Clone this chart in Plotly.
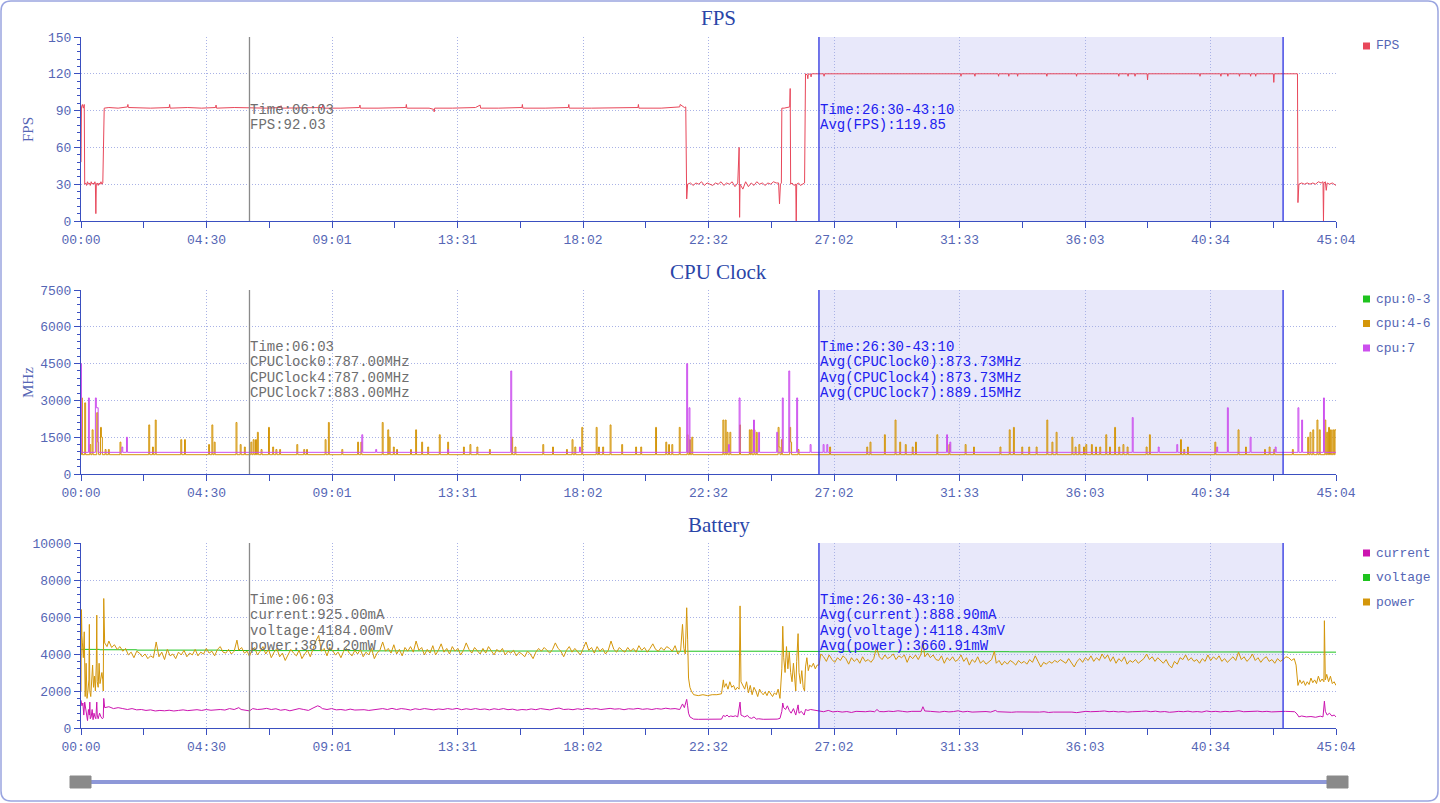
import plotly.graph_objects as go
from plotly.subplots import make_subplots

# ---- data (seconds from start, value) ----
tick_labels = ["00:00", "04:30", "09:01", "13:31", "18:02", "22:32",
               "27:02", "31:33", "36:03", "40:34", "45:04"]
total_secs = 2704

cursor_time = 363          # 06:03
sel_start, sel_end = 1590, 2590   # 26:30 - 43:10

fps_points = [
    (0, 48), (1, 93), (3, 95), (5, 92), (7, 95), (8, 30), (10, 31), (12, 29), (14, 32), (16, 30),
    (18, 31), (20, 29), (22, 32), (24, 30), (26, 31), (28, 30), (30, 32), (31, 30), (32, 6), (33, 30),
    (35, 31), (37, 29), (39, 31), (41, 30), (43, 32), (45, 30), (47, 31), (48, 55), (50, 92),
    (60, 92.5), (80, 92), (100, 93), (101, 95), (102, 92.5), (150, 92), (190, 92.5), (191, 95), (192, 92),
    (230, 92.5), (260, 92), (290, 92.5), (291, 94.5), (292, 92), (330, 92.5), (363, 92.03), (400, 92),
    (430, 92.5), (431, 94), (432, 92), (470, 92), (520, 92.5), (521, 95), (522, 92), (560, 92),
    (600, 92.5), (601, 94.5), (602, 92), (640, 92), (700, 92.5), (701, 95), (702, 92), (750, 92),
    (760, 91), (761, 89), (762, 92), (800, 92), (850, 92.5), (860, 94.5), (861, 92), (900, 92),
    (950, 92.5), (951, 95), (952, 92), (1000, 92), (1050, 92.5), (1051, 95), (1052, 92), (1100, 92),
    (1150, 92.5), (1200, 92.5), (1201, 95), (1202, 92), (1250, 92), (1290, 93), (1291, 95), (1300, 92.5),
    (1303, 93), (1305, 18), (1307, 30), (1313, 31), (1319, 29), (1325, 31), (1331, 30), (1337, 32),
    (1343, 29), (1349, 31), (1355, 30), (1361, 29), (1367, 31), (1373, 30), (1379, 32), (1385, 29),
    (1391, 31), (1397, 30), (1403, 32), (1409, 28), (1415, 31), (1418, 60), (1419, 3), (1420, 30),
    (1426, 26), (1432, 32), (1438, 28), (1444, 31), (1450, 29), (1456, 32), (1462, 30), (1468, 31),
    (1474, 29), (1480, 31), (1486, 30), (1492, 32), (1498, 31), (1503, 31), (1505, 14), (1507, 30),
    (1509, 31), (1510, 92), (1515, 92), (1520, 92.5), (1527, 93), (1528, 108), (1529, 30), (1532, 31),
    (1536, 29), (1540, 30), (1541, 0), (1542, 30), (1546, 31), (1550, 29), (1555, 30), (1559, 31),
    (1561, 120), (1565, 119), (1566, 116), (1567, 120), (1572, 119.5), (1573, 117.5), (1574, 120),
    (1600, 120), (1601, 118), (1602, 120), (1895, 120), (1896, 118), (1897, 120), (1925, 120), (1926, 118),
    (1927, 120), (1976, 120), (1977, 118), (1978, 120), (1998, 120), (1999, 118), (2000, 120), (2017, 120),
    (2018, 118), (2019, 120), (2080, 120), (2081, 118), (2082, 120), (2144, 120), (2145, 118), (2146, 120),
    (2235, 120), (2236, 118), (2237, 120), (2255, 120), (2256, 118), (2257, 120), (2270, 120), (2271, 118),
    (2272, 120), (2297, 120), (2298, 115), (2299, 120), (2410, 120), (2411, 118), (2412, 120), (2455, 120),
    (2456, 118), (2457, 120), (2470, 120), (2471, 118), (2472, 120), (2495, 120), (2496, 118), (2497, 120),
    (2519, 120), (2520, 118), (2521, 120), (2530, 120), (2531, 118), (2532, 120), (2569, 120), (2570, 113),
    (2571, 120), (2621, 120), (2622, 15), (2624, 30), (2630, 31), (2636, 30), (2642, 31), (2648, 30),
    (2654, 31), (2660, 30), (2666, 32), (2672, 31), (2676, 32), (2677, 0), (2678, 31), (2681, 32),
    (2683, 25), (2685, 31), (2690, 30), (2696, 31), (2700, 30), (2704, 29),
]

# cpu 4-6 clock (MHz), step series: (time, value); cpu 0-3 sits exactly under it
cpu46_points = [
    (0, 787), (1, 3100), (3, 787), (8, 2900), (10, 787), (19, 1200), (21, 787), (24, 1800), (26, 787),
    (34, 2500), (36, 1300), (38, 787), (42, 1900), (44, 1500), (46, 787), (52, 1000), (54, 787),
    (59, 1000), (61, 787), (84, 1300), (86, 787), (146, 2000), (148, 787), (154, 1100), (156, 787),
    (160, 2200), (162, 787), (215, 1400), (217, 787), (223, 1400), (225, 787), (275, 1200), (277, 787),
    (282, 2000), (284, 787), (287, 1300), (289, 787), (334, 2100), (336, 787), (343, 1200), (345, 787),
    (352, 1100), (354, 787), (366, 1300), (368, 787), (371, 1400), (373, 787), (376, 1400), (378, 787),
    (380, 1700), (382, 787), (388, 1000), (390, 787), (404, 1900), (406, 787), (413, 1100), (415, 787),
    (420, 1000), (422, 787), (428, 1000), (430, 787), (465, 1200), (467, 787), (480, 1000), (482, 787),
    (486, 1000), (488, 787), (526, 1400), (528, 787), (533, 2100), (535, 787), (562, 1000), (564, 787),
    (596, 1300), (598, 787), (603, 1300), (605, 787), (649, 2100), (651, 787), (661, 1800), (663, 787),
    (664, 1500), (666, 787), (673, 1100), (675, 787), (680, 1000), (682, 787), (710, 1000), (712, 787),
    (721, 1800), (723, 787), (734, 1300), (736, 787), (747, 1100), (749, 787), (772, 1600), (774, 787),
    (790, 1300), (792, 787), (824, 1100), (826, 787), (838, 1200), (840, 787), (853, 1100), (855, 787),
    (880, 1000), (882, 787), (928, 1500), (930, 787), (935, 1100), (937, 787), (995, 1200), (997, 787),
    (1016, 1100), (1018, 787), (1046, 1000), (1048, 787), (1058, 1400), (1060, 787), (1064, 1100),
    (1066, 787), (1079, 1900), (1081, 787), (1110, 1900), (1112, 787), (1115, 1100), (1117, 787),
    (1124, 1100), (1126, 787), (1140, 2000), (1142, 787), (1165, 1200), (1167, 787), (1195, 1100),
    (1197, 787), (1206, 1100), (1208, 787), (1238, 1900), (1240, 787), (1260, 1300), (1262, 787),
    (1266, 1200), (1268, 787), (1273, 1200), (1275, 787), (1289, 1900), (1291, 787), (1306, 1600),
    (1308, 787), (1311, 1400), (1313, 787), (1316, 1500), (1318, 787), (1383, 2200), (1385, 787),
    (1388, 2200), (1390, 787), (1392, 1700), (1394, 787), (1398, 1700), (1400, 787), (1419, 2000),
    (1421, 787), (1440, 1800), (1442, 787), (1444, 1800), (1446, 787), (1450, 1800), (1452, 787),
    (1455, 1700), (1457, 787), (1502, 1900), (1504, 1100), (1506, 787), (1509, 1400), (1511, 787),
    (1527, 1900), (1529, 1300), (1531, 787), (1545, 1000), (1547, 787), (1613, 1100), (1615, 787),
    (1693, 1100), (1695, 787), (1700, 1300), (1702, 787), (1731, 1600), (1733, 787), (1754, 2200),
    (1756, 787), (1764, 1300), (1766, 787), (1776, 1200), (1778, 787), (1791, 1100), (1793, 787),
    (1798, 1300), (1800, 787), (1844, 1600), (1846, 787), (1870, 1200), (1872, 787), (1905, 1200),
    (1907, 787), (1923, 1100), (1925, 787), (1980, 1100), (1982, 787), (2000, 1800), (2002, 787),
    (2009, 1900), (2011, 787), (2027, 1100), (2029, 787), (2042, 1100), (2044, 787), (2058, 1100),
    (2060, 787), (2081, 2200), (2083, 787), (2092, 1300), (2094, 787), (2101, 1700), (2103, 787),
    (2135, 1500), (2137, 787), (2142, 1100), (2144, 787), (2150, 1200), (2152, 787), (2160, 1100),
    (2162, 787), (2165, 1200), (2167, 787), (2177, 1200), (2179, 787), (2186, 1100), (2188, 787),
    (2195, 1100), (2197, 787), (2208, 1600), (2210, 787), (2216, 1100), (2218, 787), (2227, 1900),
    (2229, 787), (2236, 1100), (2238, 787), (2245, 1200), (2247, 787), (2254, 1100), (2256, 787),
    (2295, 1100), (2297, 787), (2302, 1600), (2304, 787), (2369, 1400), (2371, 787), (2376, 1000),
    (2378, 787), (2384, 1100), (2386, 787), (2443, 1300), (2445, 787), (2493, 1800), (2495, 787),
    (2509, 1100), (2511, 787), (2550, 1000), (2552, 787), (2560, 1100), (2562, 787), (2570, 1000),
    (2572, 787), (2610, 1000), (2612, 787), (2643, 1500), (2645, 787), (2648, 1700), (2650, 787),
    (2654, 1800), (2656, 787), (2663, 2200), (2665, 787), (2668, 1800), (2670, 787), (2680, 2200),
    (2682, 787), (2684, 1700), (2686, 787), (2688, 1900), (2690, 787), (2692, 1800), (2694, 787),
    (2697, 1800), (2699, 787), (2701, 1800), (2704, 787),
]

cpu7_points = [
    (0, 4500), (1, 883), (16, 3100), (18, 883), (31, 3100), (33, 2700), (37, 883), (88, 1100), (90, 883),
    (98, 1500), (100, 883), (605, 1600), (607, 883), (635, 1000), (637, 883), (790, 1000), (792, 883),
    (926, 4200), (928, 883), (1074, 1100), (1076, 883), (1305, 4500), (1307, 883), (1310, 2700),
    (1312, 883), (1395, 1200), (1397, 883), (1418, 3100), (1420, 883), (1449, 2200), (1451, 883),
    (1460, 1700), (1462, 883), (1499, 1700), (1501, 883), (1511, 3100), (1513, 883), (1525, 4200),
    (1527, 883), (1542, 3100), (1544, 883), (1571, 1200), (1573, 883), (1599, 1200), (1601, 883),
    (1607, 1200), (1609, 883), (1865, 1600), (1867, 883), (1872, 1300), (1874, 883), (2265, 2300),
    (2267, 883), (2321, 1100), (2323, 883), (2361, 1200), (2363, 883), (2447, 1100), (2449, 883),
    (2470, 2700), (2472, 883), (2519, 1500), (2521, 883), (2573, 1100), (2575, 883), (2622, 2700),
    (2624, 883), (2630, 2200), (2632, 883), (2677, 3100), (2679, 883), (2704, 883),
]

current_points = [
    (0, 1500), (2, 1200), (4, 1350), (6, 700), (8, 1400), (10, 1100), (12, 600), (14, 400), (16, 1000),
    (18, 700), (19, 1400), (20, 500), (22, 600), (24, 1000), (26, 450), (28, 800), (30, 600), (32, 500),
    (34, 1400), (35, 700), (37, 500), (40, 800), (43, 600), (46, 500), (48, 550), (49, 1600), (51, 1100),
    (60, 1150), (70, 1050), (80, 1100), (90, 1050), (100, 1000), (110, 1050), (120, 980), (130, 1000),
    (140, 950), (150, 980), (160, 920), (170, 950), (180, 930), (190, 960), (200, 920), (210, 950),
    (220, 980), (230, 940), (240, 960), (250, 990), (260, 950), (270, 1000), (280, 960), (290, 980),
    (300, 1000), (310, 970), (320, 1050), (330, 1000), (340, 1100), (345, 1000), (350, 970), (363, 925),
    (370, 1050), (380, 1000), (390, 1020), (400, 1060), (410, 1000), (420, 1040), (430, 960), (440, 1000),
    (450, 930), (460, 980), (470, 1050), (480, 1000), (490, 950), (500, 1080), (510, 1200), (515, 1150),
    (520, 1050), (530, 1000), (540, 1050), (550, 980), (560, 1000), (570, 960), (580, 1020), (590, 970),
    (600, 1000), (610, 990), (620, 950), (630, 980), (640, 1000), (650, 1050), (660, 1000), (670, 1060),
    (680, 1000), (690, 1050), (700, 1020), (710, 970), (720, 1040), (730, 1000), (740, 1050), (750, 1020),
    (760, 980), (770, 1030), (780, 1000), (790, 1050), (800, 1010), (810, 1060), (820, 990), (830, 1040),
    (840, 1000), (850, 1050), (860, 1000), (870, 1030), (880, 980), (890, 1040), (900, 1000), (910, 1050),
    (920, 990), (930, 1020), (940, 960), (950, 1000), (960, 980), (970, 1030), (980, 990), (990, 1050),
    (1000, 1010), (1010, 980), (1020, 1040), (1030, 1080), (1040, 1000), (1050, 1020), (1060, 990),
    (1070, 1040), (1080, 1000), (1090, 1060), (1100, 1020), (1110, 1050), (1120, 1000), (1130, 1030),
    (1140, 1060), (1150, 1020), (1160, 1040), (1170, 990), (1180, 1040), (1190, 1020), (1200, 1060),
    (1210, 1010), (1220, 1040), (1230, 1000), (1240, 1050), (1250, 1020), (1260, 1070), (1270, 1030),
    (1280, 1050), (1290, 1000), (1296, 1300), (1300, 1100), (1305, 1550), (1307, 1200), (1309, 800),
    (1312, 600), (1316, 520), (1320, 480), (1330, 470), (1340, 470), (1350, 460), (1360, 470), (1370, 460),
    (1380, 480), (1384, 680), (1388, 620), (1392, 700), (1396, 600), (1400, 650), (1405, 620), (1410, 660),
    (1415, 600), (1420, 1400), (1422, 700), (1426, 650), (1430, 600), (1436, 680), (1440, 560), (1445, 520),
    (1450, 600), (1455, 480), (1460, 500), (1470, 470), (1480, 460), (1490, 470), (1500, 480), (1506, 520),
    (1510, 900), (1512, 1350), (1514, 1100), (1518, 1000), (1522, 1200), (1526, 950), (1530, 800),
    (1535, 1050), (1540, 700), (1545, 1250), (1547, 800), (1552, 900), (1558, 700), (1561, 1000),
    (1566, 950), (1572, 1000), (1580, 960), (1590, 920), (1600, 880), (1610, 950), (1620, 870), (1630, 900),
    (1640, 860), (1650, 890), (1660, 840), (1670, 900), (1680, 870), (1690, 880), (1700, 910), (1710, 880),
    (1715, 1000), (1720, 890), (1730, 880), (1740, 910), (1750, 890), (1760, 930), (1770, 900), (1780, 870),
    (1790, 900), (1800, 920), (1810, 900), (1814, 1150), (1818, 920), (1830, 900), (1840, 880), (1850, 860),
    (1860, 900), (1870, 870), (1880, 890), (1890, 930), (1900, 870), (1910, 900), (1920, 860), (1930, 880),
    (1940, 870), (1950, 890), (1960, 860), (1970, 950), (1975, 880), (1985, 860), (1995, 880), (2005, 850),
    (2015, 870), (2025, 860), (2035, 880), (2045, 850), (2055, 870), (2065, 860), (2075, 880), (2085, 840),
    (2095, 860), (2105, 870), (2115, 850), (2125, 880), (2135, 860), (2145, 830), (2155, 870), (2165, 900),
    (2175, 880), (2185, 870), (2195, 900), (2205, 920), (2215, 880), (2225, 900), (2235, 870), (2245, 890),
    (2255, 860), (2265, 880), (2275, 870), (2285, 900), (2295, 920), (2305, 880), (2315, 910), (2325, 870),
    (2335, 890), (2345, 850), (2355, 870), (2365, 900), (2375, 880), (2385, 910), (2395, 870), (2405, 890),
    (2415, 860), (2425, 920), (2435, 880), (2445, 900), (2455, 870), (2465, 900), (2475, 880), (2485, 910),
    (2495, 930), (2505, 880), (2515, 900), (2525, 890), (2535, 910), (2545, 880), (2555, 900), (2565, 870),
    (2575, 890), (2585, 880), (2595, 900), (2605, 890), (2615, 880), (2620, 760), (2624, 600), (2630, 650),
    (2640, 600), (2650, 620), (2660, 580), (2670, 640), (2676, 600), (2679, 1450), (2681, 900), (2685, 700),
    (2690, 800), (2695, 650), (2700, 700), (2704, 600),
]

voltage_points = [
    (0, 4250), (40, 4230), (120, 4210), (300, 4190), (363, 4184), (600, 4170), (900, 4160), (1200, 4150),
    (1500, 4140), (1700, 4125), (2000, 4118), (2300, 4110), (2600, 4100), (2704, 4100),
]

power_points = [
    (0, 2000), (1, 6400), (2, 5000), (3, 4600), (5, 3800), (7, 5200), (9, 1700), (11, 3500), (13, 1600),
    (15, 2000), (17, 2600), (18, 5600), (19, 2000), (21, 1700), (23, 2500), (25, 3400), (27, 2200),
    (29, 2800), (31, 2000), (33, 3500), (34, 6100), (35, 2500), (37, 2200), (39, 3500), (41, 2400),
    (43, 2800), (45, 3000), (47, 2600), (48, 2000), (49, 7000), (51, 4600), (56, 4400), (60, 4700),
    (66, 4350), (72, 4500), (78, 4250), (84, 4400), (90, 4150), (96, 4300), (102, 3950), (108, 4100),
    (114, 3800), (120, 4150), (126, 4050), (132, 3850), (138, 4000), (144, 3750), (150, 3900), (156, 3800),
    (162, 4650), (168, 3850), (174, 4100), (180, 3700), (186, 4250), (192, 3900), (198, 4000), (204, 3750),
    (210, 4100), (216, 3950), (222, 4200), (228, 3850), (234, 4050), (240, 3950), (246, 4250), (252, 3900),
    (258, 4100), (264, 4000), (270, 4300), (276, 4050), (282, 4150), (288, 3900), (294, 4250), (300, 4400),
    (306, 4100), (312, 4050), (318, 4250), (324, 4000), (330, 4150), (336, 4750), (340, 4200), (346, 4350),
    (352, 4050), (358, 4150), (363, 3870), (368, 4200), (374, 4350), (380, 3950), (386, 4150), (392, 4400),
    (398, 4000), (404, 4250), (410, 3800), (416, 4100), (422, 4300), (428, 3850), (434, 4050), (440, 3650),
    (446, 3950), (452, 4250), (458, 4050), (464, 3900), (470, 4200), (476, 3750), (482, 4000), (488, 4200),
    (494, 3850), (500, 4300), (506, 4700), (512, 5000), (518, 4150), (524, 4300), (530, 3900), (536, 4350),
    (542, 4200), (548, 3950), (554, 4100), (560, 3800), (566, 4150), (572, 4300), (578, 4050), (584, 3900),
    (590, 4200), (596, 4000), (602, 4250), (608, 3850), (614, 4100), (620, 3950), (626, 4300), (632, 3750),
    (638, 4050), (644, 4200), (650, 4650), (656, 4150), (662, 4300), (668, 4050), (674, 4500), (680, 4000),
    (686, 4250), (692, 3900), (698, 4350), (704, 4150), (710, 4400), (716, 4100), (722, 4700), (728, 4200),
    (734, 4350), (740, 3950), (746, 4250), (752, 4050), (758, 4450), (764, 3950), (770, 4200), (776, 4550),
    (782, 4100), (788, 4300), (794, 4000), (800, 4400), (806, 4150), (812, 4300), (818, 3950), (824, 4200),
    (830, 4600), (836, 4250), (842, 4050), (848, 4350), (854, 4150), (860, 4000), (866, 4300), (872, 4050),
    (878, 4400), (884, 4200), (890, 3950), (896, 4250), (902, 4100), (908, 4300), (914, 3950), (920, 4150),
    (926, 4050), (932, 4200), (938, 3900), (944, 4100), (950, 4000), (956, 3850), (962, 4150), (968, 4000),
    (974, 3750), (980, 4100), (986, 4300), (992, 4150), (998, 4350), (1004, 4200), (1010, 4050),
    (1016, 4250), (1022, 4600), (1028, 4300), (1034, 4150), (1040, 3850), (1046, 4200), (1052, 4400),
    (1058, 4100), (1064, 4300), (1070, 4150), (1076, 3950), (1082, 4300), (1088, 4650), (1094, 4200),
    (1100, 4350), (1106, 4050), (1112, 4400), (1118, 4150), (1124, 4300), (1130, 4000), (1136, 4200),
    (1142, 4700), (1148, 4250), (1154, 4100), (1160, 4350), (1166, 4200), (1172, 4100), (1178, 4350),
    (1184, 4150), (1190, 4300), (1196, 4100), (1202, 4450), (1208, 4200), (1214, 4350), (1220, 4100),
    (1226, 4300), (1232, 4550), (1238, 4250), (1244, 4150), (1250, 4350), (1256, 4200), (1262, 4400),
    (1268, 4300), (1274, 4150), (1280, 4450), (1286, 4000), (1292, 4200), (1296, 5600), (1299, 4300),
    (1302, 4000), (1305, 6500), (1307, 4800), (1309, 2700), (1312, 2200), (1315, 2000), (1320, 1800),
    (1330, 1750), (1340, 1800), (1350, 1750), (1360, 1800), (1370, 1800), (1380, 1850), (1384, 2600),
    (1386, 2200), (1390, 2400), (1394, 2100), (1398, 2500), (1402, 2200), (1406, 2300), (1410, 2050),
    (1414, 2200), (1418, 2100), (1420, 6600), (1422, 2500), (1426, 2300), (1430, 2100), (1434, 2500),
    (1438, 1900), (1442, 2300), (1446, 1800), (1450, 2200), (1454, 2000), (1458, 1700), (1462, 2100),
    (1466, 1900), (1470, 1800), (1474, 1950), (1478, 1750), (1482, 2000), (1486, 1850), (1490, 1700),
    (1494, 1900), (1498, 1800), (1502, 2100), (1506, 1600), (1510, 3200), (1512, 5500), (1514, 3800),
    (1517, 3000), (1520, 4400), (1523, 3200), (1526, 4100), (1529, 3000), (1532, 2500), (1535, 3500),
    (1538, 2600), (1540, 2000), (1542, 3600), (1545, 5100), (1547, 3000), (1550, 2400), (1553, 3100),
    (1556, 2200), (1559, 2000), (1561, 3300), (1564, 3800), (1567, 3100), (1570, 3400), (1574, 3300),
    (1578, 3500), (1582, 3200), (1586, 3400), (1590, 3400), (1594, 4000), (1600, 3850), (1606, 3600),
    (1612, 3950), (1618, 3700), (1624, 3550), (1630, 3800), (1636, 3650), (1642, 3900), (1648, 3750),
    (1654, 3450), (1660, 3800), (1666, 3600), (1672, 3750), (1678, 3500), (1684, 3850), (1690, 3600),
    (1696, 3700), (1702, 3550), (1708, 3750), (1714, 4350), (1720, 3850), (1726, 3700), (1732, 3950),
    (1738, 3750), (1744, 3850), (1750, 4000), (1756, 3700), (1762, 3900), (1768, 3800), (1774, 3950),
    (1780, 3550), (1786, 3900), (1792, 3750), (1798, 3950), (1804, 3700), (1810, 4000), (1814, 4700),
    (1818, 3850), (1824, 4050), (1830, 3800), (1836, 3950), (1842, 3700), (1848, 3650), (1854, 3900),
    (1860, 3500), (1866, 3800), (1872, 3650), (1878, 3850), (1884, 3600), (1890, 3700), (1896, 3950),
    (1902, 3600), (1908, 3800), (1914, 3400), (1920, 3700), (1926, 3550), (1932, 3850), (1938, 3500),
    (1944, 3650), (1950, 3450), (1956, 3600), (1962, 3700), (1968, 4150), (1972, 3500), (1978, 3650),
    (1984, 3400), (1990, 3600), (1996, 3450), (2002, 3650), (2008, 3550), (2014, 3400), (2020, 3650),
    (2026, 3500), (2032, 3600), (2038, 3450), (2044, 3700), (2050, 3550), (2056, 3900), (2062, 3600),
    (2068, 3300), (2074, 3550), (2080, 3450), (2086, 3600), (2092, 3500), (2098, 3650), (2104, 3550),
    (2110, 3700), (2116, 3600), (2122, 3500), (2128, 3750), (2134, 3550), (2140, 3300), (2146, 3600),
    (2152, 3750), (2158, 3550), (2164, 3800), (2170, 3650), (2176, 3900), (2182, 3600), (2188, 3800),
    (2194, 3650), (2200, 4000), (2206, 3750), (2212, 3950), (2218, 3600), (2224, 3850), (2230, 3500),
    (2236, 3750), (2242, 3600), (2248, 3850), (2254, 3450), (2260, 3650), (2266, 3550), (2272, 3700),
    (2278, 3500), (2284, 3650), (2290, 3750), (2296, 4000), (2302, 3700), (2308, 3850), (2314, 3600),
    (2320, 3800), (2326, 3650), (2332, 3500), (2338, 3700), (2344, 3400), (2350, 3250), (2356, 3600),
    (2362, 3450), (2368, 3800), (2374, 3700), (2380, 3950), (2386, 3650), (2392, 3800), (2398, 3600),
    (2404, 3700), (2410, 3500), (2416, 3750), (2422, 3600), (2428, 3950), (2434, 3650), (2440, 3850),
    (2446, 3700), (2452, 3900), (2458, 3600), (2464, 3750), (2470, 3550), (2476, 3700), (2482, 3850),
    (2488, 3650), (2494, 4100), (2500, 3700), (2506, 3850), (2512, 3600), (2518, 3750), (2524, 4000),
    (2530, 3650), (2536, 3800), (2542, 3550), (2548, 3750), (2554, 3850), (2560, 3600), (2566, 3700),
    (2572, 3500), (2578, 3750), (2584, 3600), (2590, 3700), (2596, 3850), (2602, 3800), (2608, 3650),
    (2614, 3750), (2618, 3400), (2622, 2300), (2626, 2600), (2630, 2400), (2634, 2550), (2638, 2300),
    (2642, 2500), (2646, 2350), (2650, 2700), (2654, 2450), (2658, 2600), (2662, 2400), (2666, 2800),
    (2670, 2500), (2674, 2650), (2678, 2500), (2679, 5800), (2681, 2600), (2684, 2900), (2688, 2500),
    (2692, 2800), (2696, 2400), (2700, 2500), (2704, 2300),
]

cursor_fps = ["Time:06:03", "FPS:92.03"]
sel_fps = ["Time:26:30-43:10", "Avg(FPS):119.85"]
cursor_cpu = ["Time:06:03", "CPUClock0:787.00MHz", "CPUClock4:787.00MHz", "CPUClock7:883.00MHz"]
sel_cpu = ["Time:26:30-43:10", "Avg(CPUClock0):873.73MHz", "Avg(CPUClock4):873.73MHz",
           "Avg(CPUClock7):889.15MHz"]
cursor_bat = ["Time:06:03", "current:925.00mA", "voltage:4184.00mV", "power:3870.20mW"]
sel_bat = ["Time:26:30-43:10", "Avg(current):888.90mA", "Avg(voltage):4118.43mV", "Avg(power):3660.91mW"]

legend_names = [["FPS"], ["cpu:0-3", "cpu:4-6", "cpu:7"], ["current", "voltage", "power"]]

# ---- style ----
FONT = "Liberation Mono"
SERIF = "Liberation Serif"
AXIS = "#3a4fc0"
TICKTXT = "#5566b5"
GRID = "#a9b2e6"
TITLE = "#2a45a8"
RED = "#e8475a"
GREEN = "#1ec31e"
GOLD = "#d4960a"
PURPLE = "#cc4fee"
MAGENTA = "#cc14b0"
legend_colors = [[RED], [GREEN, GOLD, PURPLE], [MAGENTA, GREEN, GOLD]]

W, H = 1440, 803
L, R, T, B = 81, 104, 37, 75
PW, PH = W - L - R, H - T - B


def px(x):
    return (x - L) / PW


def py(y):
    return (H - B - y) / PH


def xy(pts):
    return [p[0] for p in pts], [p[1] for p in pts]


fig = make_subplots(rows=3, cols=1)

t, v = xy(fps_points)
fig.add_trace(go.Scatter(x=t, y=v, mode="lines", line=dict(color=RED, width=1), showlegend=False,
                         hoverinfo="skip"), row=1, col=1)

for pts, col in [(cpu46_points, GOLD), (cpu7_points, PURPLE)]:
    t, v = xy(pts)
    fig.add_trace(go.Scatter(x=t, y=v, mode="lines", line=dict(color=col, width=1, shape="hv"),
                             showlegend=False, hoverinfo="skip"), row=2, col=1)

for pts, col in [(current_points, MAGENTA), (voltage_points, GREEN), (power_points, GOLD)]:
    t, v = xy(pts)
    shp = "hv" if pts is voltage_points else "linear"
    fig.add_trace(go.Scatter(x=t, y=v, mode="lines", line=dict(color=col, width=1, shape=shp),
                             showlegend=False, hoverinfo="skip"), row=3, col=1)

tickvals = [i * total_secs / 10 for i in range(11)]
domains = [(py(221), py(37)), (py(474), py(290)), (py(728), py(543))]
yranges = [(0, 150, 30), (0, 7500, 1500), (0, 10000, 2000)]
DOT = "1px,2px"

for i in range(3):
    fig.update_xaxes(row=i + 1, col=1, range=[0, total_secs], domain=[0, 1],
                     tickvals=tickvals, ticktext=tick_labels,
                     ticks="outside", ticklen=6, tickcolor=AXIS,
                     showline=True, linecolor=AXIS, linewidth=1,
                     showgrid=True, gridcolor=GRID, griddash=DOT, gridwidth=1,
                     minor=dict(dtick=total_secs / 20, tick0=0, ticks="outside", ticklen=6,
                                tickcolor=AXIS, showgrid=False),
                     tickfont=dict(family=FONT, size=13, color=TICKTXT), zeroline=False)
    lo, hi, step = yranges[i]
    fig.update_yaxes(row=i + 1, col=1, domain=list(domains[i]), range=[lo, hi], dtick=step,
                     tickformat="d",
                     ticks="outside", ticklen=6, tickcolor=AXIS,
                     showline=True, linecolor=AXIS, linewidth=1,
                     showgrid=True, gridcolor=GRID, griddash=DOT, gridwidth=1,
                     minor=dict(dtick=step / 5, ticks="outside", ticklen=3, tickcolor=AXIS, showgrid=False),
                     tickfont=dict(family=FONT, size=13, color=TICKTXT), zeroline=False)

shapes = []
annotations = []
xnames = ["x", "x2", "x3"]
ynames = ["y", "y2", "y3"]
for i in range(3):
    xr, yd = xnames[i], ynames[i] + " domain"
    shapes.append(dict(type="rect", xref=xr, yref=yd, x0=sel_start, x1=sel_end, y0=0, y1=1,
                       fillcolor="#e8e8fa", line=dict(width=0), layer="below"))
    for xv in (sel_start, sel_end):
        shapes.append(dict(type="line", xref=xr, yref=yd, x0=xv, x1=xv, y0=0, y1=1,
                           line=dict(color="#2a30e0", width=1.3)))
    shapes.append(dict(type="line", xref=xr, yref=yd, x0=cursor_time, x1=cursor_time, y0=0, y1=1,
                       line=dict(color="#8a8a8a", width=1.3)))

# panel titles
for txt, yy in [("FPS", 18), ("CPU Clock", 272), ("Battery", 525)]:
    annotations.append(dict(text=txt, xref="paper", yref="paper", x=px(719), y=py(yy), yanchor="middle",
                            showarrow=False, font=dict(family=SERIF, size=21, color=TITLE)))
for txt, yy in [("FPS", 130), ("MHz", 383)]:
    annotations.append(dict(text=txt, xref="paper", yref="paper", x=px(18), y=py(yy), textangle=-90,
                            yanchor="middle", showarrow=False, font=dict(family=SERIF, size=15, color=TICKTXT)))

# legends: square swatch + name at the right of each panel
legend_tops = [46, 299, 553]
for names, cols, top in zip(legend_names, legend_colors, legend_tops):
    for k, (name, col) in enumerate(zip(names, cols)):
        yc = top + 24.5 * k
        shapes.append(dict(type="rect", xref="paper", yref="paper", x0=px(1363), x1=px(1370),
                           y0=py(yc + 3.5), y1=py(yc - 3.5), fillcolor=col, line=dict(width=0)))
        annotations.append(dict(text=name, xref="paper", yref="paper", x=px(1374), y=py(yc),
                                xanchor="left", yanchor="middle", showarrow=False,
                                font=dict(family=FONT, size=13, color=TICKTXT)))

# cursor / selection readouts
row_tops = [110, 347, 600]
blocks = [(cursor_fps, sel_fps, "x"), (cursor_cpu, sel_cpu, "x2"), (cursor_bat, sel_bat, "x3")]
for (cur, sel, xr), top in zip(blocks, row_tops):
    for k, line in enumerate(cur):
        annotations.append(dict(text=line, xref=xr, yref="paper", x=cursor_time, y=py(top + 15.3 * k),
                                xanchor="left", yanchor="middle", xshift=-1, showarrow=False,
                                font=dict(family=FONT, size=14, color="#6e6e6e")))
    for k, line in enumerate(sel):
        annotations.append(dict(text=line, xref=xr, yref="paper", x=sel_start, y=py(top + 15.3 * k),
                                xanchor="left", yanchor="middle", xshift=-1, showarrow=False,
                                font=dict(family=FONT, size=14, color="#2020f0")))

# outer rounded frame
r = 10
x0, x1, y0, y1 = 1, W - 2, 1, H - 2
frame = (f"M {px(x0 + r)} {py(y0)} L {px(x1 - r)} {py(y0)} Q {px(x1)} {py(y0)} {px(x1)} {py(y0 + r)} "
         f"L {px(x1)} {py(y1 - r)} Q {px(x1)} {py(y1)} {px(x1 - r)} {py(y1)} "
         f"L {px(x0 + r)} {py(y1)} Q {px(x0)} {py(y1)} {px(x0)} {py(y1 - r)} "
         f"L {px(x0)} {py(y0 + r)} Q {px(x0)} {py(y0)} {px(x0 + r)} {py(y0)} Z")
shapes.append(dict(type="path", xref="paper", yref="paper", path=frame, line=dict(color="#9aa5e0", width=1.5)))

# zoom slider at the bottom
shapes.append(dict(type="line", xref="paper", yref="paper", x0=px(80), x1=px(1338), y0=py(782), y1=py(782),
                   line=dict(color="#8e98d8", width=4)))
for hx in (70, 1327):
    shapes.append(dict(type="rect", xref="paper", yref="paper", x0=px(hx), x1=px(hx + 21),
                       y0=py(788), y1=py(776), fillcolor="#8a8a8a", line=dict(color="#8a8a8a", width=1)))

fig.update_layout(
    width=W, height=H,
    margin=dict(l=L, r=R, t=T, b=B, autoexpand=False),
    paper_bgcolor="white", plot_bgcolor="white",
    shapes=shapes, annotations=annotations,
    showlegend=False, hovermode=False,
)

fig.write_html("out.html", config={"displayModeBar": False},
               post_script="document.body.style.margin='0';document.body.style.padding='0';")
